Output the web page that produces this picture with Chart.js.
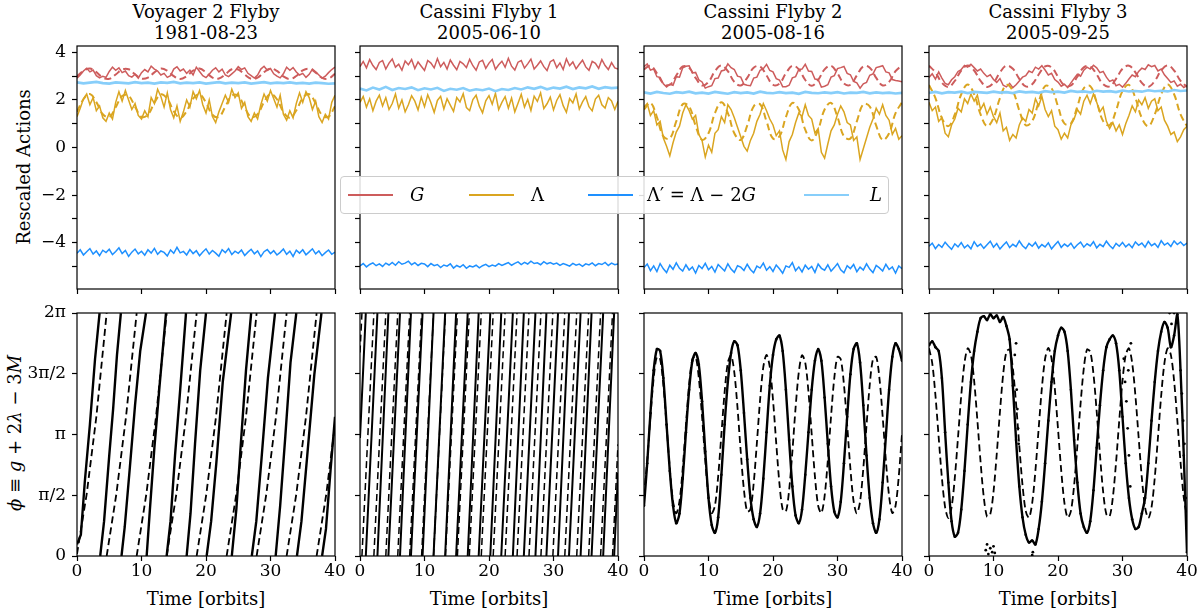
<!DOCTYPE html>
<html>
<head>
<meta charset="utf-8">
<title>Flyby actions and resonant angle</title>
<script src="https://cdn.jsdelivr.net/npm/chart.js@4.4.1/dist/chart.umd.min.js"></script>
<style>
  html, body { margin: 0; padding: 0; background: #fff; }
  body { position: relative; width: 1200px; height: 610px; overflow: hidden; font-family: "DejaVu Serif", "Liberation Serif", serif; color: #000; }
  canvas { position: absolute; }
  .txt { position: absolute; font-size: 18px; line-height: 21px; text-align: center; white-space: nowrap; }
  .ylab { position: absolute; font-size: 18px; line-height: 21px; white-space: nowrap; transform: translate(-50%, -50%) rotate(-90deg); }
  #legend { position: absolute; left: 340px; top: 176px; width: 547px; height: 36px; border: 1px solid #cccccc; border-radius: 4px; background: rgba(255,255,255,0.85); z-index: 5; }
  .lg-line { position: absolute; top: 17px; width: 45px; height: 2px; }
  .lg-txt { position: absolute; top: 7px; font-size: 18px; line-height: 22px; white-space: nowrap; }
</style>
</head>
<body>

<div class="txt" style="left:77px;top:1px;width:258px">Voyager 2 Flyby<br>1981-08-23</div>
<div class="txt" style="left:360px;top:1px;width:258px">Cassini Flyby 1<br>2005-06-10</div>
<div class="txt" style="left:644px;top:1px;width:258px">Cassini Flyby 2<br>2005-08-16</div>
<div class="txt" style="left:929px;top:1px;width:258px">Cassini Flyby 3<br>2005-09-25</div>

<div class="ylab" style="left:23px;top:167px">Rescaled Actions</div>
<div class="ylab" style="left:14px;top:433px"><i>ϕ</i> ≡ <i>g</i> + 2<i>λ</i> − 3<i>M</i></div>

<div class="txt" style="left:77px;top:588px;width:258px">Time [orbits]</div>
<div class="txt" style="left:360px;top:588px;width:258px">Time [orbits]</div>
<div class="txt" style="left:644px;top:588px;width:258px">Time [orbits]</div>
<div class="txt" style="left:929px;top:588px;width:258px">Time [orbits]</div>

<div id="legend">
  <span class="lg-line" style="left:7px;background:#cd5c5c"></span>
  <span class="lg-txt" style="left:69px"><i>G</i></span>
  <span class="lg-line" style="left:128px;background:#daa520"></span>
  <span class="lg-txt" style="left:190px">Λ</span>
  <span class="lg-line" style="left:247px;background:#1e90ff"></span>
  <span class="lg-txt" style="left:306px">Λ′ = Λ − 2<i>G</i></span>
  <span class="lg-line" style="left:463px;background:#87cefa"></span>
  <span class="lg-txt" style="left:529px"><i>L</i></span>
</div>

<script>
// time grids [orbits]
const T = [
  0, 0.5, 1, 1.5, 2, 2.5, 3, 3.5, 4, 4.5,
  5, 5.5, 6, 6.5, 7, 7.5, 8, 8.5, 9, 9.5,
  10, 10.5, 11, 11.5, 12, 12.5, 13, 13.5, 14, 14.5,
  15, 15.5, 16, 16.5, 17, 17.5, 18, 18.5, 19, 19.5,
  20, 20.5, 21, 21.5, 22, 22.5, 23, 23.5, 24, 24.5,
  25, 25.5, 26, 26.5, 27, 27.5, 28, 28.5, 29, 29.5,
  30, 30.5, 31, 31.5, 32, 32.5, 33, 33.5, 34, 34.5,
  35, 35.5, 36, 36.5, 37, 37.5, 38, 38.5, 39, 39.5,
  40
];
const T1 = [
  0, 1, 2, 3, 4, 5, 6, 7, 8, 9,
  10, 11, 12, 13, 14, 15, 16, 17, 18, 19,
  20, 21, 22, 23, 24, 25, 26, 27, 28, 29,
  30, 31, 32, 33, 34, 35, 36, 37, 38, 39,
  40
];

// ---- Voyager 2 flyby (actions) ----
const v2G = [
  2.92, 3.05, 3.22, 3.33, 3.18, 3.26, 3.02, 2.93, 3.00, 2.95,
  3.20, 3.38, 3.25, 3.35, 3.15, 3.22, 3.02, 2.96, 3.08, 2.92,
  3.15, 3.28, 3.18, 3.42, 3.30, 3.22, 3.05, 3.12, 2.95, 3.02,
  3.30, 3.40, 3.22, 3.30, 3.12, 3.25, 3.05, 3.38, 3.20, 3.02,
  2.94, 3.08, 3.25, 3.35, 3.18, 3.30, 3.05, 2.98, 3.10, 3.22,
  3.40, 3.28, 3.35, 3.12, 3.02, 2.92, 3.05, 3.30, 3.42, 3.25,
  3.32, 3.10, 3.00, 2.93, 3.10, 3.38, 3.25, 3.36, 3.18, 3.05,
  3.12, 2.95, 3.08, 3.30, 3.18, 3.05, 2.92, 3.00, 3.15, 3.28,
  3.38
];
const v2Lam = [
  1.30, 1.65, 2.05, 2.25, 1.80, 2.10, 1.55, 1.75, 1.25, 1.10,
  1.45, 1.20, 1.90, 2.35, 1.95, 2.40, 2.00, 1.60, 1.85, 1.35,
  1.20, 1.55, 1.30, 2.10, 1.85, 2.45, 2.15, 1.70, 2.30, 1.60,
  1.25, 1.75, 1.10, 1.50, 2.00, 1.70, 2.35, 2.05, 2.40, 1.80,
  1.45, 2.00, 1.30, 1.05, 1.50, 1.85, 2.20, 1.90, 2.45, 2.10,
  2.30, 1.65, 1.90, 1.30, 1.10, 1.45, 1.20, 1.80, 2.25, 1.95,
  2.40, 2.05, 1.70, 2.20, 1.40, 1.15, 1.55, 1.25, 1.85, 2.30,
  1.90, 2.35, 2.10, 1.60, 1.95, 1.30, 1.05, 1.40, 1.20, 1.90,
  2.20
];
const v2LamP = [
  -4.45, -4.30, -4.52, -4.38, -4.25, -4.48, -4.35, -4.55, -4.32, -4.42,
  -4.28, -4.50, -4.37, -4.22, -4.46, -4.33, -4.58, -4.40, -4.27, -4.47,
  -4.36, -4.53, -4.30, -4.44, -4.24, -4.49, -4.35, -4.41, -4.56, -4.31,
  -4.45, -4.20, -4.43, -4.37, -4.52, -4.29, -4.46, -4.34, -4.55, -4.39,
  -4.26, -4.48, -4.33, -4.44, -4.57, -4.30, -4.42, -4.25, -4.50, -4.36,
  -4.45, -4.31, -4.54, -4.40, -4.28, -4.47, -4.35, -4.59, -4.38, -4.29,
  -4.46, -4.34, -4.52, -4.41, -4.27, -4.49, -4.36, -4.58, -4.32, -4.44,
  -4.30, -4.51, -4.39, -4.26, -4.47, -4.35, -4.55, -4.42, -4.31, -4.49,
  -4.40
];
const v2L = [
  2.74, 2.70, 2.73, 2.76, 2.71, 2.69, 2.74, 2.72, 2.70, 2.75,
  2.71, 2.73, 2.69, 2.74, 2.72, 2.76, 2.70, 2.73, 2.71, 2.74,
  2.69, 2.72, 2.75, 2.70, 2.73, 2.71, 2.74, 2.69, 2.72, 2.75,
  2.70, 2.73, 2.71, 2.74, 2.70, 2.72, 2.69, 2.73, 2.71, 2.68,
  2.70
];
const v2GModel = [
  2.99, 3.22, 3.32, 3.17, 2.94, 2.89, 3.07, 3.28, 3.29, 3.08,
  2.90, 2.94, 3.16, 3.32, 3.23, 3.00, 2.88, 3.00, 3.23, 3.32,
  3.16, 2.94, 2.90, 3.08, 3.29, 3.28, 3.07, 2.89, 2.94, 3.17,
  3.32, 3.22, 2.99, 2.88, 3.01, 3.24, 3.31, 3.15, 2.93, 2.90,
  3.10
];
const v2LamModel = [
  1.50, 2.03, 2.25, 1.91, 1.40, 1.28, 1.69, 2.17, 2.18, 1.72,
  1.29, 1.38, 1.88, 2.24, 2.05, 1.53, 1.25, 1.53, 2.06, 2.24,
  1.88, 1.38, 1.29, 1.72, 2.18, 2.17, 1.69, 1.28, 1.40, 1.91,
  2.25, 2.03, 1.50, 1.25, 1.56, 2.08, 2.24, 1.86, 1.36, 1.30,
  1.74
];

// ---- Cassini flyby 1 (actions) ----
const c1G = [
  3.40, 3.62, 3.35, 3.70, 3.45, 3.28, 3.58, 3.66, 3.30, 3.55,
  3.72, 3.38, 3.50, 3.25, 3.64, 3.48, 3.70, 3.32, 3.60, 3.42,
  3.24, 3.66, 3.55, 3.35, 3.74, 3.40, 3.58, 3.30, 3.68, 3.46,
  3.27, 3.62, 3.52, 3.36, 3.71, 3.44, 3.25, 3.60, 3.67, 3.33,
  3.55, 3.70, 3.29, 3.48, 3.63, 3.38, 3.75, 3.42, 3.26, 3.59,
  3.66, 3.34, 3.52, 3.72, 3.30, 3.46, 3.64, 3.40, 3.24, 3.61,
  3.69, 3.36, 3.56, 3.28, 3.73, 3.44, 3.60, 3.31, 3.50, 3.67,
  3.39, 3.25, 3.62, 3.54, 3.33, 3.70, 3.45, 3.28, 3.57, 3.35,
  3.30
];
const c1Lam = [
  1.90, 2.15, 1.70, 2.05, 1.55, 1.95, 2.20, 1.75, 2.10, 1.60,
  1.85, 2.25, 1.65, 2.00, 1.50, 1.80, 2.18, 1.95, 1.58, 2.12,
  1.72, 2.22, 1.88, 1.48, 1.98, 2.15, 1.62, 2.05, 1.78, 1.52,
  2.10, 1.92, 2.26, 1.68, 1.55, 2.02, 2.20, 1.74, 1.46, 1.96,
  2.18, 1.82, 2.28, 1.60, 1.90, 2.14, 1.66, 2.08, 1.50, 1.86,
  2.24, 1.70, 2.02, 1.56, 2.16, 1.94, 2.30, 1.64, 1.84, 2.12,
  1.58, 1.98, 2.22, 1.76, 1.48, 2.06, 1.88, 2.25, 1.62, 1.92,
  2.14, 1.72, 1.54, 2.04, 2.20, 1.80, 1.66, 2.10, 1.96, 1.60,
  1.95
];
const c1LamP = [
  -4.98, -4.88, -5.02, -4.92, -4.85, -4.97, -4.89, -5.00, -4.86, -4.94,
  -4.83, -4.95, -4.80, -4.91, -4.86, -4.78, -4.93, -4.84, -4.96, -4.87,
  -4.90, -5.01, -4.88, -4.97, -4.92, -5.05, -4.94, -4.99, -4.89, -5.07,
  -4.96, -5.03, -4.93, -5.08, -4.98, -5.02, -4.95, -5.06, -4.97, -4.91,
  -5.01, -4.94, -4.99, -4.88, -4.96, -4.90, -4.84, -4.95, -4.87, -4.81,
  -4.92, -4.83, -4.90, -4.78, -4.88, -4.85, -4.93, -4.80, -4.89, -4.84,
  -4.91, -4.86, -4.96, -4.88, -4.93, -4.99, -4.87, -4.95, -4.90, -5.00,
  -4.89, -4.94, -4.85, -4.97, -4.88, -4.92, -4.83, -4.96, -4.86, -4.93,
  -4.90
];
const c1L = [
  2.48, 2.40, 2.52, 2.44, 2.55, 2.42, 2.50, 2.46, 2.53, 2.41,
  2.49, 2.44, 2.51, 2.38, 2.47, 2.43, 2.50, 2.39, 2.45, 2.41,
  2.48, 2.37, 2.46, 2.42, 2.50, 2.44, 2.53, 2.47, 2.55, 2.45,
  2.52, 2.48, 2.56, 2.46, 2.53, 2.49, 2.57, 2.47, 2.54, 2.50,
  2.52
];

// ---- Cassini flyby 2 (actions) ----
const c2G = [
  3.40, 3.52, 3.26, 3.30, 2.98, 2.95, 2.68, 2.55, 2.66, 2.62,
  2.98, 2.96, 3.35, 3.42, 3.44, 3.14, 3.16, 2.85, 2.76, 2.50,
  2.56, 2.60, 2.90, 2.92, 3.22, 3.26, 3.52, 3.36, 3.28, 3.00,
  2.96, 2.66, 2.62, 2.60, 2.92, 2.96, 3.25, 3.32, 3.50, 3.24,
  3.18, 2.90, 2.84, 2.56, 2.56, 2.62, 2.93, 2.98, 3.28, 3.30,
  3.50, 3.22, 3.20, 2.88, 2.86, 2.54, 2.58, 2.64, 2.96, 3.02,
  3.32, 3.36, 3.41, 3.12, 3.06, 2.78, 2.72, 2.50, 2.68, 2.74,
  3.04, 3.10, 3.36, 3.40, 3.44, 3.18, 3.14, 2.86, 2.82, 2.80,
  2.76
];
const c2Lam = [
  1.70, 1.85, 1.35, 1.55, 0.95, 1.10, 0.40, 0.05, -0.35, 0.20,
  0.65, 0.90, 1.45, 1.80, 1.55, 1.20, 1.35, 0.55, 0.30, -0.40,
  0.10, -0.20, 0.60, 0.75, 1.30, 1.05, 1.80, 1.60, 1.25, 0.85,
  0.45, 0.05, -0.15, 0.30, 0.60, 1.10, 1.40, 1.85, 1.55, 1.20,
  0.95, 0.50, 0.70, -0.10, -0.50, 0.25, 0.55, 1.05, 1.45, 1.30,
  1.80, 1.35, 1.20, 0.60, 0.80, -0.20, -0.45, 0.15, 0.70, 0.95,
  1.40, 1.75, 1.50, 1.05, 0.95, 0.30, 0.45, -0.50, -0.05, 0.40,
  0.85, 1.20, 1.65, 1.40, 1.80, 1.35, 1.15, 0.55, 0.80, 0.35,
  0.50
];
const c2LamP = [
  -5.05, -4.90, -5.18, -4.98, -5.22, -4.88, -5.10, -5.26, -4.95, -5.12,
  -4.85, -5.08, -5.20, -4.93, -5.15, -5.02, -5.28, -4.96, -5.09, -4.87,
  -5.14, -5.00, -5.24, -4.92, -5.06, -5.19, -4.89, -5.11, -5.25, -4.97,
  -5.03, -5.17, -4.91, -5.13, -5.27, -4.99, -5.07, -4.86, -5.16, -5.01,
  -5.21, -4.94, -5.10, -5.29, -4.98, -5.04, -4.84, -5.18, -5.02, -5.23,
  -4.95, -5.12, -5.00, -5.25, -4.90, -5.08, -5.16, -4.93, -5.20, -5.05,
  -4.88, -5.14, -5.27, -4.97, -5.09, -4.92, -5.22, -5.03, -5.15, -4.89,
  -5.11, -5.26, -4.96, -5.06, -5.19, -4.91, -5.13, -5.02, -5.28, -4.98,
  -5.10
];
const c2L = [
  2.32, 2.27, 2.34, 2.29, 2.26, 2.33, 2.30, 2.35, 2.28, 2.31,
  2.27, 2.34, 2.30, 2.26, 2.33, 2.29, 2.32, 2.27, 2.35, 2.30,
  2.28, 2.33, 2.29, 2.31, 2.26, 2.34, 2.30, 2.28, 2.32, 2.29,
  2.33, 2.27, 2.31, 2.30, 2.34, 2.28, 2.32, 2.29, 2.31, 2.27,
  2.30
];
const c2GModel = [
  3.29, 3.44, 3.12, 2.69, 2.64, 3.03, 3.41, 3.36, 2.93, 2.61,
  2.76, 3.21, 3.45, 3.21, 2.76, 2.61, 2.93, 3.36, 3.41, 3.03,
  2.64, 2.69, 3.12, 3.44, 3.29, 2.84, 2.60, 2.84, 3.29, 3.44,
  3.12, 2.69, 2.64, 3.03, 3.41, 3.36, 2.93, 2.61, 2.76, 3.21,
  3.45
];
const c2LamModel = [
  1.60, 1.88, 1.28, 0.47, 0.38, 1.10, 1.82, 1.73, 0.92, 0.32,
  0.60, 1.45, 1.90, 1.45, 0.60, 0.32, 0.92, 1.73, 1.82, 1.10,
  0.38, 0.47, 1.28, 1.88, 1.60, 0.75, 0.30, 0.75, 1.60, 1.88,
  1.28, 0.47, 0.38, 1.10, 1.82, 1.73, 0.92, 0.32, 0.60, 1.45,
  1.90
];

// ---- Cassini flyby 3 (actions) ----
const c3G = [
  2.95, 3.10, 2.88, 3.18, 2.92, 2.70, 2.64, 2.85, 2.98, 3.20,
  3.28, 3.45, 3.38, 3.50, 3.36, 3.22, 3.30, 3.12, 2.98, 3.06,
  2.86, 2.74, 2.90, 2.62, 2.55, 2.70, 2.52, 2.64, 2.80, 2.96,
  3.02, 3.22, 3.15, 3.38, 3.30, 3.44, 3.26, 3.05, 3.12, 2.86,
  2.75, 2.58, 2.66, 2.52, 2.72, 2.90, 3.08, 3.00, 3.25, 3.38,
  3.30, 3.46, 3.35, 3.15, 3.20, 2.96, 2.78, 2.84, 2.60, 2.66,
  2.54, 2.70, 2.88, 3.05, 2.98, 3.20, 3.34, 3.28, 3.48, 3.40,
  3.45, 3.22, 3.30, 3.06, 2.90, 2.74, 2.80, 2.58, 2.66, 2.52,
  2.62
];
const c3Lam = [
  1.90, 1.55, 1.70, 1.10, 1.25, 0.60, 0.45, 0.95, 1.20, 1.65,
  1.50, 2.05, 1.85, 2.25, 1.95, 2.20, 1.60, 1.85, 1.40, 1.70,
  1.30, 1.05, 1.45, 0.70, 0.85, 0.30, 0.55, 0.40, 0.95, 1.25,
  1.10, 1.60, 1.45, 2.05, 1.75, 2.15, 1.60, 1.30, 1.55, 0.90,
  0.75, 0.35, 0.60, 0.40, 0.95, 1.20, 1.60, 1.40, 1.95, 2.20,
  1.85, 2.25, 1.90, 1.50, 1.70, 1.10, 0.80, 1.05, 0.70, 0.95,
  0.55, 1.00, 1.35, 1.75, 1.50, 2.00, 1.80, 2.10, 1.65, 1.95,
  2.05, 1.55, 1.70, 1.15, 0.90, 0.55, 0.65, 0.25, 0.45, 0.75,
  0.90
];
const c3LamP = [
  -4.15, -4.02, -4.25, -4.08, -4.20, -3.98, -4.14, -4.28, -4.05, -4.18,
  -4.00, -4.22, -4.10, -4.26, -3.96, -4.16, -4.06, -4.24, -4.09, -3.94,
  -4.19, -4.04, -4.27, -4.11, -3.97, -4.21, -4.07, -4.17, -3.93, -4.13,
  -4.25, -4.03, -4.15, -3.99, -4.23, -4.08, -4.18, -4.01, -4.26, -4.10,
  -3.95, -4.20, -4.06, -4.16, -4.02, -4.24, -4.09, -3.98, -4.19, -4.05,
  -4.14, -3.96, -4.22, -4.07, -4.17, -3.94, -4.12, -4.25, -4.03, -4.15,
  -3.99, -4.18, -4.06, -4.21, -3.97, -4.11, -4.02, -4.19, -3.95, -4.13,
  -4.04, -4.20, -3.92, -4.10, -4.01, -4.16, -3.93, -4.08, -3.97, -4.12,
  -4.02
];
const c3L = [
  2.30, 2.34, 2.28, 2.33, 2.31, 2.35, 2.29, 2.34, 2.32, 2.30,
  2.35, 2.31, 2.33, 2.29, 2.36, 2.32, 2.34, 2.30, 2.37, 2.33,
  2.35, 2.31, 2.38, 2.34, 2.36, 2.32, 2.39, 2.35, 2.37, 2.33,
  2.40, 2.36, 2.38, 2.35, 2.41, 2.37, 2.39, 2.36, 2.42, 2.38,
  2.40
];
const c3GModel = [
  3.44, 3.16, 2.72, 2.55, 2.80, 3.24, 3.45, 3.24, 2.80, 2.55,
  2.72, 3.16, 3.44, 3.31, 2.89, 2.57, 2.66, 3.07, 3.41, 3.37,
  2.98, 2.61, 2.61, 2.98, 3.37, 3.41, 3.07, 2.66, 2.57, 2.89,
  3.31, 3.44, 3.16, 2.72, 2.55, 2.80, 3.24, 3.45, 3.24, 2.80,
  2.55
];
const c3LamModel = [
  2.63, 2.08, 1.24, 0.90, 1.39, 2.24, 2.65, 2.24, 1.39, 0.90,
  1.24, 2.08, 2.63, 2.38, 1.56, 0.94, 1.11, 1.91, 2.58, 2.49,
  1.73, 1.01, 1.01, 1.73, 2.49, 2.58, 1.91, 1.11, 0.94, 1.56,
  2.38, 2.63, 2.08, 1.24, 0.90, 1.39, 2.24, 2.65, 2.24, 1.39,
  0.90
];

// ---- resonant angle phi (null = wrap from 2pi back to 0) ----
const v2PhiT = [0, 0.6, 1.2, 2.0, 2.8, 3.5, null,
  3.6, 4.2, 5.0, 5.6, 6.2, 6.8, null,
  6.9, 7.4, 8.2, 9.0, 9.8, 10.7, null,
  10.8, 11.3, 12.0, 12.8, 13.8, null,
  13.9, 14.5, 15.2, 16.0, 16.9, null,
  17.0, 17.6, 18.3, 19.1, 20.0, null,
  20.1, 20.8, 21.6, 22.6, 23.9, null,
  24.0, 24.7, 25.4, 26.2, 27.0, null,
  27.1, 27.8, 28.6, 29.6, 30.7, null,
  30.8, 31.5, 32.3, 33.1, 34.0, null,
  34.1, 34.8, 35.7, 36.8, 37.9, null,
  38.0, 38.6, 39.3, 40.0];
const v2PhiY = [0.30, 0.55, 1.90, 3.40, 5.10, 6.28, null,
  0.00, 0.90, 2.60, 3.80, 5.20, 6.28, null,
  0.00, 0.75, 2.30, 3.90, 5.30, 6.28, null,
  0.00, 1.20, 2.80, 4.40, 6.28, null,
  0.00, 0.90, 2.60, 4.30, 6.28, null,
  0.00, 1.10, 2.90, 4.80, 6.28, null,
  0.00, 0.90, 2.40, 4.50, 6.28, null,
  0.00, 1.20, 2.90, 4.80, 6.28, null,
  0.00, 0.90, 2.50, 4.60, 6.28, null,
  0.00, 1.30, 3.10, 5.00, 6.28, null,
  0.00, 0.90, 2.60, 4.70, 6.28, null,
  0.00, 0.70, 2.20, 3.60];
const v2ModT = [0, 1.5, 3.0, 4.6, null,
  4.6, 6.1, 7.6, 9.25, null,
  9.25, 10.75, 12.25, 13.9, null,
  13.9, 15.4, 16.9, 18.55, null,
  18.55, 20.05, 21.55, 23.2, null,
  23.2, 24.7, 26.2, 27.85, null,
  27.85, 29.35, 30.85, 32.5, null,
  32.5, 34.0, 35.5, 37.15, null,
  37.15, 38.65, 40.0];
const v2ModY = [0.05, 1.60, 3.60, 6.28, null,
  0.00, 1.60, 3.60, 6.28, null,
  0.00, 1.60, 3.60, 6.28, null,
  0.00, 1.60, 3.60, 6.28, null,
  0.00, 1.60, 3.60, 6.28, null,
  0.00, 1.60, 3.60, 6.28, null,
  0.00, 1.60, 3.60, 6.28, null,
  0.00, 1.60, 3.60, 6.28, null,
  0.00, 1.60, 3.40];

const c1PhiT = [0, 0.9, null,
  0.9, 2.7, null, 2.7, 4.4, null, 4.4, 6.2, null, 6.2, 7.9, null,
  7.9, 9.7, null, 9.7, 11.4, null, 11.4, 13.2, null, 13.2, 14.9, null,
  14.9, 16.7, null, 16.7, 18.4, null, 18.4, 20.2, null, 20.2, 21.9, null,
  21.9, 23.7, null, 23.7, 25.4, null, 25.4, 27.2, null, 27.2, 28.9, null,
  28.9, 30.7, null, 30.7, 32.4, null, 32.4, 34.2, null, 34.2, 35.9, null,
  35.9, 37.7, null, 37.7, 39.4, null,
  39.4, 40.0];
const c1PhiY = [3.05, 6.28, null,
  0, 6.28, null, 0, 6.28, null, 0, 6.28, null, 0, 6.28, null,
  0, 6.28, null, 0, 6.28, null, 0, 6.28, null, 0, 6.28, null,
  0, 6.28, null, 0, 6.28, null, 0, 6.28, null, 0, 6.28, null,
  0, 6.28, null, 0, 6.28, null, 0, 6.28, null, 0, 6.28, null,
  0, 6.28, null, 0, 6.28, null, 0, 6.28, null, 0, 6.28, null,
  0, 6.28, null, 0, 6.28, null,
  0, 2.15];
const c1ModT = [0, 0.3, null,
  0.3, 2.15, null, 2.15, 4.0, null, 4.0, 5.85, null, 5.85, 7.7, null,
  7.7, 9.55, null, 9.55, 11.4, null, 11.4, 13.25, null, 13.25, 15.1, null,
  15.1, 16.95, null, 16.95, 18.8, null, 18.8, 20.65, null, 20.65, 22.5, null,
  22.5, 24.35, null, 24.35, 26.2, null, 26.2, 28.05, null, 28.05, 29.9, null,
  29.9, 31.75, null, 31.75, 33.6, null, 33.6, 35.45, null, 35.45, 37.3, null,
  37.3, 39.15, null,
  39.15, 40.0];
const c1ModY = [5.26, 6.28, null,
  0, 6.28, null, 0, 6.28, null, 0, 6.28, null, 0, 6.28, null,
  0, 6.28, null, 0, 6.28, null, 0, 6.28, null, 0, 6.28, null,
  0, 6.28, null, 0, 6.28, null, 0, 6.28, null, 0, 6.28, null,
  0, 6.28, null, 0, 6.28, null, 0, 6.28, null, 0, 6.28, null,
  0, 6.28, null, 0, 6.28, null, 0, 6.28, null, 0, 6.28, null,
  0, 6.28, null,
  0, 2.89];

const c2Phi = [
  1.30, 2.40, 3.70, 4.80, 5.35, 5.30, 4.60, 3.40, 2.20, 1.30,
  0.85, 1.10, 2.00, 3.20, 4.30, 5.05, 5.25, 4.95, 4.00, 2.70,
  1.50, 0.80, 0.60, 1.00, 2.10, 3.40, 4.50, 5.25, 5.55, 5.45,
  4.80, 3.70, 2.50, 1.50, 0.95, 0.75, 1.10, 2.00, 3.20, 4.40,
  5.20, 5.60, 5.70, 5.30, 4.30, 3.00, 1.80, 1.05, 0.85, 1.20,
  2.10, 3.20, 4.30, 5.05, 5.35, 5.05, 4.10, 2.90, 1.80, 1.15,
  1.00, 1.40, 2.40, 3.60, 4.70, 5.35, 5.50, 5.00, 3.90, 2.60,
  1.50, 0.85, 0.60, 0.95, 1.90, 3.10, 4.30, 5.15, 5.50, 5.35,
  5.05
];
const c2PhiModel = [
  1.55, 2.47, 3.61, 4.60, 5.15, 5.09, 4.43, 3.38, 2.26, 1.41,
  1.10, 1.41, 2.26, 3.38, 4.43, 5.09, 5.15, 4.60, 3.61, 2.47,
  1.55, 1.11, 1.30, 2.06, 3.15, 4.24, 5.00, 5.19, 4.75, 3.83,
  2.69, 1.70, 1.15, 1.21, 1.87, 2.92, 4.04, 4.89, 5.20, 4.89,
  4.04, 2.92, 1.87, 1.21, 1.15, 1.70, 2.69, 3.83, 4.75, 5.19,
  5.00, 4.24, 3.15, 2.06, 1.30, 1.11, 1.55, 2.47, 3.61, 4.60,
  5.15, 5.09, 4.43, 3.38, 2.26, 1.41, 1.10, 1.41, 2.26, 3.38,
  4.43, 5.09, 5.15, 4.60, 3.61, 2.47, 1.55, 1.11, 1.30, 2.06,
  3.15
];

const c3Phi = [
  5.45, 5.55, 5.40, 5.30, 4.60, 3.20, 1.90, 0.90, 0.50, 0.60,
  1.20, 2.20, 3.40, 4.50, 5.30, 5.80, 6.15, 6.20, 6.10, 6.25,
  6.15, 6.22, 6.05, 6.18, 5.95, 5.60, 4.40, 3.00, 1.80, 1.00,
  0.55, 0.35, 0.40, 0.30, 0.70, 1.40, 2.40, 3.50, 4.50, 5.30,
  5.70, 5.90, 5.80, 5.30, 4.30, 3.00, 1.90, 1.10, 0.75, 0.60,
  0.90, 1.70, 2.80, 3.90, 4.80, 5.40, 5.60, 5.70, 5.50, 4.80,
  3.60, 2.40, 1.50, 0.95, 0.70, 0.75, 1.10, 1.50, 2.40, 3.50,
  4.50, 5.30, 5.80, 6.05, 5.90, 5.40, 5.70, 6.25, 4.80, 2.60,
  0.10
];
const c3PhiModel = [
  5.37, 4.99, 4.15, 3.07, 2.02, 1.26, 0.98, 1.26, 2.02, 3.07,
  4.15, 4.99, 5.37, 5.20, 4.53, 3.51, 2.42, 1.51, 1.02, 1.08,
  1.66, 2.63, 3.73, 4.70, 5.28, 5.34, 4.85, 3.94, 2.85, 1.83,
  1.16, 0.99, 1.37, 2.21, 3.29, 4.34, 5.10, 5.38, 5.10, 4.34,
  3.29, 2.21, 1.37, 0.99, 1.16, 1.83, 2.85, 3.94, 4.85, 5.34,
  5.28, 4.70, 3.73, 2.63, 1.66, 1.08, 1.02, 1.51, 2.42, 3.51,
  4.53, 5.20, 5.37, 4.99, 4.15, 3.07, 2.02, 1.26, 0.98, 1.26,
  2.02, 3.07, 4.15, 4.99, 5.37, 5.20, 4.53, 3.51, 2.42, 1.51,
  1.02
];
// stray samples of the Cassini 3 angle (wrapped or fast-moving points)
const c3StrayT = [8.8, 9.0, 9.2, 9.5, 9.8, 10.0, 10.2, 13.3, 13.5, 13.6, 13.7, 13.8, 13.9, 16.0, 16.1,
  30.2, 30.4, 30.6, 30.8, 30.9, 31.0, 31.2, 31.3, 37.3, 37.6, 38.0, 39.2, 39.4, 39.6, 39.8];
const c3StrayY = [0.15, 0.30, 0.05, 0.20, 0.10, 0.25, 0.08, 5.20, 5.50, 4.30, 3.80, 3.30, 2.90, 0.02, 0.10,
  5.10, 4.50, 4.00, 3.30, 4.80, 2.60, 1.80, 5.50, 6.28, 6.00, 6.28, 4.20, 3.50, 2.90, 1.50];

// axis ticks
const xTicks = [0, 10, 20, 30, 40];
const actTicks = [-5, -4, -3, -2, -1, 0, 1, 2, 3, 4];
const phiTicks = [0, Math.PI / 2, Math.PI, 3 * Math.PI / 2, 2 * Math.PI];
const phiLabels = ['0', 'π/2', 'π', '3π/2', '2π'];

const colG = '#cd5c5c', colLam = '#daa520', colLamP = '#1e90ff', colL = '#87cefa';

// layout of the plot boxes (page pixels)
const panelLeft = [77, 360, 644, 929];
const plotW = 258, plotH = 243;
const rows = [{ top: 46, below: 8 }, { top: 313, below: 32 }];
const padTop = 12, axisW = 50, padRight = 16;
const serif = '"DejaVu Serif", "Liberation Serif", serif';

Chart.defaults.font.family = serif;
Chart.defaults.color = '#000';

const framePlugin = {
  id: 'frame',
  afterDraw(chart) {
    const { ctx, chartArea: a } = chart;
    ctx.save();
    ctx.strokeStyle = '#000';
    ctx.lineWidth = 1.2;
    ctx.strokeRect(a.left, a.top, a.right - a.left, a.bottom - a.top);
    ctx.restore();
  }
};

function pts(xs, ys) {
  return ys.map((v, i) => ({ x: xs[i], y: v }));
}

function line(xs, ys, color, width, dash, tension) {
  return {
    data: pts(xs, ys),
    borderColor: color,
    borderWidth: width,
    borderDash: dash || [],
    pointRadius: 0,
    tension: tension || 0,
    fill: false,
    spanGaps: false
  };
}

function makePanel(col, row, datasets) {
  const r = rows[row];
  const w = axisW + plotW + padRight;
  const h = padTop + plotH + r.below;
  const cv = document.createElement('canvas');
  cv.width = w;
  cv.height = h;
  cv.style.left = (panelLeft[col] - axisW) + 'px';
  cv.style.top = (r.top - padTop) + 'px';
  cv.style.width = w + 'px';
  cv.style.height = h + 'px';
  document.body.appendChild(cv);

  const tickGrid = { drawOnChartArea: false, drawTicks: true, tickLength: 5, tickColor: '#000', tickWidth: 1.2 };
  const tickFont = { family: serif, size: 17 };

  new Chart(cv, {
    type: 'line',
    data: { datasets },
    options: {
      responsive: false,
      animation: false,
      events: [],
      layout: { padding: { left: 0, right: padRight, top: padTop, bottom: 0 } },
      plugins: { legend: { display: false }, tooltip: { enabled: false } },
      scales: {
        x: {
          type: 'linear',
          min: 0,
          max: 40,
          afterBuildTicks: s => { s.ticks = xTicks.map(v => ({ value: v })); },
          afterFit: s => { s.height = r.below; s.paddingLeft = 0; s.paddingRight = 0; },
          grid: tickGrid,
          border: { display: false },
          ticks: {
            font: tickFont,
            padding: 0,
            maxRotation: 0,
            autoSkip: false,
            callback: v => (row === 1 ? String(v) : '')
          }
        },
        y: {
          type: 'linear',
          min: row === 0 ? -5.95 : 0,
          max: row === 0 ? 4.27 : 2 * Math.PI,
          afterBuildTicks: s => {
            s.ticks = (row === 0 ? actTicks : phiTicks).map(v => ({ value: v }));
          },
          afterFit: s => { s.width = axisW; s.paddingTop = 0; s.paddingBottom = 0; },
          grid: tickGrid,
          border: { display: false },
          ticks: {
            font: tickFont,
            padding: 6,
            autoSkip: false,
            callback: (v, i) => {
              if (col !== 0) return '';
              if (row === 1) return phiLabels[i];
              if (v % 2 !== 0) return '';
              return v < 0 ? '\u2212' + Math.abs(v) : String(v);
            }
          }
        }
      }
    },
    plugins: [framePlugin]
  });
}

const dash = [7, 4];

// top row: first dataset is drawn on top
makePanel(0, 0, [
  line(T1, v2L, colL, 2.6),
  line(T, v2LamP, colLamP, 1.5),
  line(T1, v2LamModel, colLam, 2, dash, 0.4),
  line(T1, v2GModel, colG, 2, dash, 0.4),
  line(T, v2Lam, colLam, 1.5),
  line(T, v2G, colG, 1.5)
]);
makePanel(1, 0, [
  line(T1, c1L, colL, 2.6),
  line(T, c1LamP, colLamP, 1.5),
  line(T, c1Lam, colLam, 1.5),
  line(T, c1G, colG, 1.5)
]);
makePanel(2, 0, [
  line(T1, c2L, colL, 2.6),
  line(T, c2LamP, colLamP, 1.5),
  line(T1, c2LamModel, colLam, 2, dash, 0.4),
  line(T1, c2GModel, colG, 2, dash, 0.4),
  line(T, c2Lam, colLam, 1.5),
  line(T, c2G, colG, 1.5)
]);
makePanel(3, 0, [
  line(T1, c3L, colL, 2.6),
  line(T, c3LamP, colLamP, 1.5),
  line(T1, c3LamModel, colLam, 2, dash, 0.4),
  line(T1, c3GModel, colG, 2, dash, 0.4),
  line(T, c3Lam, colLam, 1.5),
  line(T, c3G, colG, 1.5)
]);

// bottom row
makePanel(0, 1, [
  line(v2ModT, v2ModY, '#000', 1.8, dash),
  line(v2PhiT, v2PhiY, '#000', 2.4)
]);
makePanel(1, 1, [
  line(c1ModT, c1ModY, '#000', 1.5, dash),
  line(c1PhiT, c1PhiY, '#000', 2.0)
]);
makePanel(2, 1, [
  line(T, c2PhiModel, '#000', 1.8, dash, 0.3),
  Object.assign(line(T, c2Phi, '#000', 2.4, null, 0.3), { pointRadius: 1.3, pointBackgroundColor: '#000', pointBorderWidth: 0 })
]);
makePanel(3, 1, [
  {
    data: pts(c3StrayT, c3StrayY),
    showLine: false,
    pointRadius: 1.4,
    pointBackgroundColor: '#000',
    pointBorderWidth: 0
  },
  line(T, c3PhiModel, '#000', 1.8, dash, 0.3),
  Object.assign(line(T, c3Phi, '#000', 2.4, null, 0.3), { pointRadius: 1.3, pointBackgroundColor: '#000', pointBorderWidth: 0 })
]);
</script>
</body>
</html>
